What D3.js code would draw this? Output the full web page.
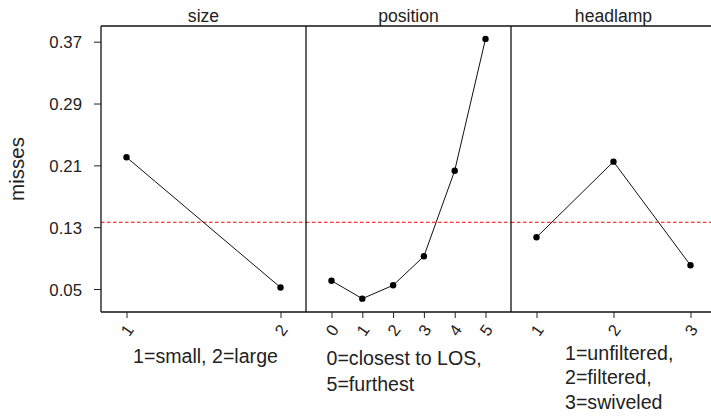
<!DOCTYPE html>
<html>
<head>
<meta charset="utf-8">
<script src="https://cdn.jsdelivr.net/npm/d3@7"></script>
<style>
  html, body { margin: 0; padding: 0; background: #fff; }
  svg { display: block; font-family: "Liberation Sans", Arial, sans-serif; }
</style>
</head>
<body>
<svg id="chart" width="711" height="416"></svg>
<script>
// Mean miss rate for each factor level
const panelTitles = ["size", "position", "headlamp"];
const sizeLevels = ["1", "2"];
const sizeMisses = [0.2205, 0.052];
const positionLevels = ["0", "1", "2", "3", "4", "5"];
const positionMisses = [0.0607, 0.0375, 0.0548, 0.0923, 0.2031, 0.3736];
const headlampLevels = ["1", "2", "3"];
const headlampMisses = [0.1169, 0.2148, 0.0807];
const overallMean = 0.1363;
const yTicks = [0.05, 0.13, 0.21, 0.29, 0.37];
const yLabel = "misses";
const xLabels = [
  ["1=small, 2=large"],
  ["0=closest to LOS,", "5=furthest"],
  ["1=unfiltered,", "2=filtered,", "3=swiveled"]
];

const panels = [
  { title: panelTitles[0], levels: sizeLevels, values: sizeMisses, label: xLabels[0], align: "middle" },
  { title: panelTitles[1], levels: positionLevels, values: positionMisses, label: xLabels[1], align: "start", dx: 20.5 },
  { title: panelTitles[2], levels: headlampLevels, values: headlampMisses, label: xLabels[2], align: "start", dx: 54 }
];

const svg = d3.select("#chart");
const plotTop = 26, plotBottom = 312, plotLeft = 101, panelW = 205, pad = 25.5;

const y = d3.scaleLinear()
  .domain([0.05, 0.37])
  .range([289, 41.7]);

// y axis
const yAxis = svg.append("g")
  .attr("transform", `translate(${plotLeft},0)`)
  .call(d3.axisLeft(y).tickValues(yTicks).tickFormat(d3.format(".2f")).tickSize(7).tickSizeOuter(0));
yAxis.select(".domain").remove();
yAxis.selectAll(".tick line").attr("stroke", "#222");
yAxis.selectAll(".tick text")
  .attr("font-size", 16.8).attr("font-family", "Liberation Sans, Arial, sans-serif")
  .attr("fill", "#222").attr("x", -19).attr("dy", "0.36em");

svg.append("text")
  .attr("transform", `translate(24,${(plotTop + plotBottom) / 2}) rotate(-90)`)
  .attr("text-anchor", "middle")
  .attr("font-size", 20.5)
  .attr("fill", "#222")
  .text(yLabel);

panels.forEach((p, i) => {
  const x0 = plotLeft + i * panelW;
  const x = d3.scalePoint()
    .domain(p.levels)
    .range([x0 + pad, x0 + panelW - pad]);

  const g = svg.append("g");

  // overall mean reference line
  g.append("line")
    .attr("x1", x0).attr("x2", x0 + panelW)
    .attr("y1", y(overallMean)).attr("y2", y(overallMean))
    .attr("stroke", "#ff0000").attr("stroke-width", 1.1)
    .attr("stroke-dasharray", "3.5,2.5");

  // panel frame: top, bottom and left edge
  g.append("line").attr("x1", x0).attr("x2", x0 + panelW).attr("y1", plotTop).attr("y2", plotTop)
    .attr("stroke", "#111").attr("stroke-width", 1.5);
  g.append("line").attr("x1", x0).attr("x2", x0 + panelW).attr("y1", plotBottom).attr("y2", plotBottom)
    .attr("stroke", "#111").attr("stroke-width", 1.5);
  g.append("line").attr("x1", x0).attr("x2", x0).attr("y1", plotTop).attr("y2", plotBottom)
    .attr("stroke", "#111").attr("stroke-width", 1.3);

  // panel title
  g.append("text")
    .attr("x", x0 + panelW / 2).attr("y", 22)
    .attr("text-anchor", "middle").attr("font-size", 17.6).attr("fill", "#222")
    .text(p.title);

  // x axis ticks with slanted labels
  const xAxis = g.append("g")
    .attr("transform", `translate(0,${plotBottom})`)
    .call(d3.axisBottom(x).tickSize(6).tickSizeOuter(0));
  xAxis.select(".domain").remove();
  xAxis.selectAll(".tick line").attr("stroke", "#222");
  xAxis.selectAll(".tick text")
    .attr("font-size", 16.5).attr("font-family", "Liberation Sans, Arial, sans-serif")
    .attr("fill", "#222")
    .attr("y", 0).attr("dy", 0)
    .attr("text-anchor", "middle")
    .attr("dominant-baseline", "central")
    .attr("transform", "translate(0,18) rotate(-55)");

  // connecting line and points
  const pts = p.levels.map((l, k) => [x(l), y(p.values[k])]);
  g.append("path")
    .attr("d", d3.line()(pts))
    .attr("fill", "none").attr("stroke", "#111").attr("stroke-width", 1);
  g.selectAll("circle").data(pts).join("circle")
    .attr("cx", d => d[0]).attr("cy", d => d[1]).attr("r", 3.2).attr("fill", "#000");

  // x axis label
  const lx = p.align === "middle" ? x0 + panelW / 2 + 2 : x0 + p.dx;
  const t = g.append("text")
    .attr("x", lx)
    .attr("text-anchor", p.align)
    .attr("font-size", 19.6)
    .attr("fill", "#222");
  const base = p.label.length === 2 ? 365 : (p.label.length === 3 ? 360 : 363);
  const step = p.label.length === 2 ? 25.7 : 24.3;
  p.label.forEach((s, k) => {
    t.append("tspan").attr("x", lx).attr("y", base + k * step).text(s);
  });
});
</script>
</body>
</html>
